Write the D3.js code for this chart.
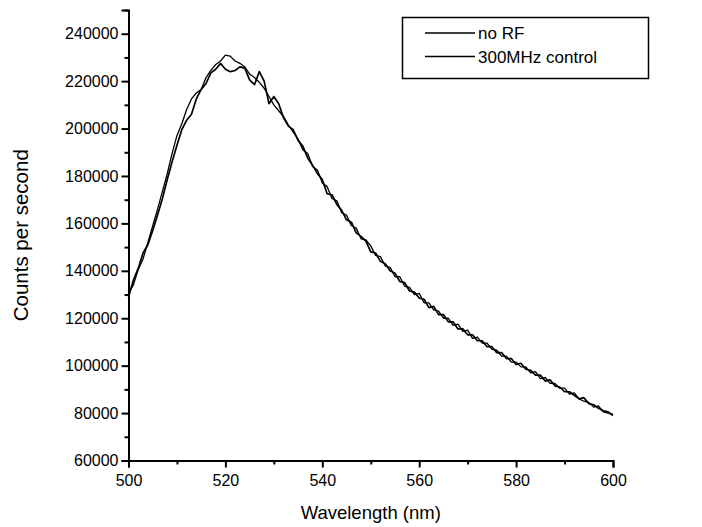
<!DOCTYPE html>
<html>
<head>
<meta charset="utf-8">
<script src="https://cdn.jsdelivr.net/npm/d3@7"></script>
<style>
  body { margin: 0; background: #fff; }
  svg { display: block; }
  text { font-family: "Liberation Sans", Arial, Helvetica, sans-serif; fill: #000; }
</style>
</head>
<body>
<svg id="chart" width="702" height="527"></svg>
<script>
// ---------------- data ----------------
const wavelengths = [
  500,501,502,503,504,505,506,507,508,509,
  510,511,512,513,514,515,516,517,518,519,
  520,521,522,523,524,525,526,527,528,529,
  530,531,532,533,534,535,536,537,538,539,
  540,541,542,543,544,545,546,547,548,549,
  550,551,552,553,554,555,556,557,558,559,
  560,561,562,563,564,565,566,567,568,569,
  570,571,572,573,574,575,576,577,578,579,
  580,581,582,583,584,585,586,587,588,589,
  590,591,592,593,594,595,596,597,598,599,
  600
];
const noRF = [
  129000,136000,141000,147500,151000,157000,163500,170500,178500,186000,
  193000,199500,203500,206000,212500,216500,219000,223500,225000,227500,
  225000,224000,224500,226000,225500,220500,218500,224000,220000,210500,
  213500,210500,204500,201000,199500,195000,192500,187500,184500,181000,
  178500,172500,172000,168000,165500,161500,160500,156000,154500,152500,
  148000,147500,144000,143000,140000,139000,135500,135000,131500,131000,
  128500,128000,124500,125000,121500,121500,118500,118500,115500,115500,
  113000,113000,110500,110500,108000,108000,105500,105500,103000,103000,
  100500,101000,98500,98000,96000,96000,93500,94000,91500,91000,
  89000,89000,87500,86000,86500,84000,83500,82000,81000,80500,
  79000
];
const control300MHz = [
  130500,134000,140500,145000,152000,159000,166000,173500,181000,189500,
  197000,202000,208000,212500,215000,216500,221500,224500,227000,228500,
  231000,230500,228500,227500,226000,223000,221500,219500,217000,213500,
  210000,207500,205000,201500,198500,195500,191000,189500,184000,182500,
  177000,175500,170500,169500,164500,163500,159000,158000,153500,153000,
  150500,146500,146000,142000,141500,137500,137500,133500,133000,130000,
  130500,126500,126500,123500,123000,120000,120000,117000,117500,114500,
  115000,111500,112000,109500,109500,107000,106500,104000,104000,101500,
  101500,99500,99500,97000,97500,94500,95000,92500,92500,90500,
  90500,88000,88500,86000,85000,84500,82500,83000,80500,80000,
  79500
];
const seriesNames = ["no RF", "300MHz control"];
const xMajorTicks = [500, 520, 540, 560, 580, 600];
const xMinorTicks = [510, 530, 550, 570, 590];
const yMajorTicks = [60000, 80000, 100000, 120000, 140000, 160000, 180000, 200000, 220000, 240000];
const yMinorTicks = [70000, 90000, 110000, 130000, 150000, 170000, 190000, 210000, 230000, 250000];
const xDomain = [500, 600];
const yDomain = [60000, 250000];

// ---------------- drawing ----------------
const svg = d3.select("#chart");
svg.append("rect").attr("width", 702).attr("height", 527).attr("fill", "#fff");

const x = d3.scaleLinear().domain(xDomain).range([128.5, 613]);
const y = d3.scaleLinear().domain(yDomain).range([460.5, 10]);

const series = [
  { name: seriesNames[0], values: noRF, width: 1.7 },
  { name: seriesNames[1], values: control300MHz, width: 1.3 }
];

const line = d3.line()
  .x((d, i) => x(wavelengths[i]))
  .y(d => y(d));

series.forEach(s => {
  svg.append("path")
    .datum(s.values)
    .attr("fill", "none")
    .attr("stroke", "#000")
    .attr("stroke-width", s.width)
    .attr("stroke-linejoin", "round")
    .attr("d", line);
});

// axes
const fmt = d3.format("d");
svg.append("g").attr("transform", `translate(${x(500)},0)`)
  .call(d3.axisLeft(y).tickValues(yMajorTicks).tickSize(7).tickPadding(3).tickFormat(fmt));
const yAxisMinor = svg.append("g").attr("transform", `translate(${x(500)},0)`)
  .call(d3.axisLeft(y).tickValues(yMinorTicks).tickSize(4).tickFormat(""));
yAxisMinor.select(".domain").remove();

svg.append("g").attr("transform", `translate(0,${y(60000)})`)
  .call(d3.axisBottom(x).tickValues(xMajorTicks).tickSize(7).tickPadding(7).tickFormat(fmt));
const xAxisMinor = svg.append("g").attr("transform", `translate(0,${y(60000)})`)
  .call(d3.axisBottom(x).tickValues(xMinorTicks).tickSize(4).tickFormat(""));
xAxisMinor.select(".domain").remove();

svg.selectAll(".domain").attr("stroke", "#000").attr("stroke-width", 2);
svg.selectAll(".tick line").attr("stroke", "#000").attr("stroke-width", 2);
svg.selectAll(".tick text")
  .style("font-family", '"Liberation Sans", Arial, sans-serif')
  .style("font-size", "16px")
  .attr("fill", "#000");

// axis titles
svg.append("text")
  .attr("x", (x(500) + x(600)) / 2)
  .attr("y", 519)
  .attr("text-anchor", "middle")
  .style("font-size", "18.5px")
  .text("Wavelength (nm)");

svg.append("text")
  .attr("transform", `translate(28,${(y(60000) + y(250000)) / 2}) rotate(-90)`)
  .attr("text-anchor", "middle")
  .style("font-size", "20.5px")
  .text("Counts per second");

// legend
const lg = svg.append("g");
lg.append("rect")
  .attr("x", 402.5).attr("y", 17.5).attr("width", 246).attr("height", 61)
  .attr("fill", "#fff").attr("stroke", "#000").attr("stroke-width", 1.5);
series.forEach((s, i) => {
  const cy = 33 + i * 23.5;
  lg.append("line")
    .attr("x1", 425).attr("x2", 475).attr("y1", cy).attr("y2", cy)
    .attr("stroke", "#000").attr("stroke-width", s.width);
  lg.append("text")
    .attr("x", 478).attr("y", cy + 6)
    .style("font-size", "17px")
    .text(s.name);
});
</script>
</body>
</html>
